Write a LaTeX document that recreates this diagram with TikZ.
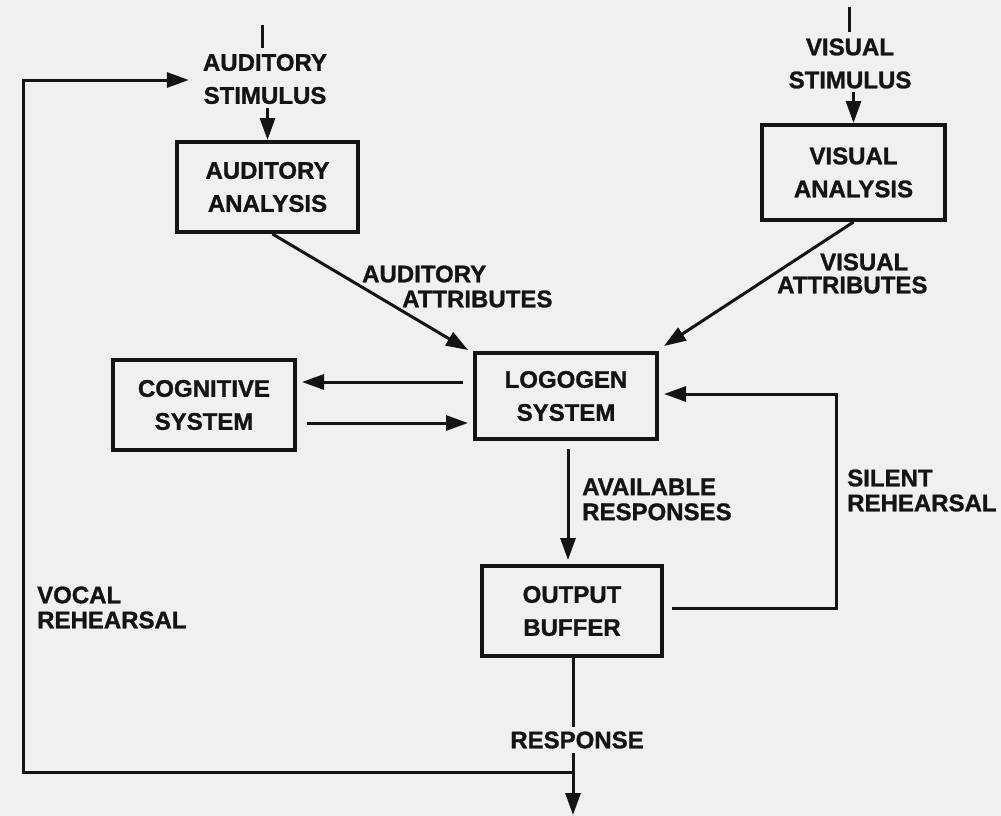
\documentclass[tikz,border=0pt]{standalone}
\usepackage{fontspec}
\setmainfont{Liberation Sans}[BoldFeatures={FakeBold=1.2}]
\usetikzlibrary{arrows.meta}
\definecolor{paper}{RGB}{240,240,240}
\definecolor{ink}{RGB}{20,20,20}
\begin{document}
\begin{tikzpicture}[x=1pt,y=-1pt,
  every node/.style={font=\bfseries\fontsize{24}{33}\selectfont, inner sep=0pt, text=ink},
  box/.style={draw=ink, line width=4pt, align=center},
  conn/.style={draw=ink, line width=3pt},
  arr/.style={conn, -{Triangle[length=22pt,width=15pt]}},
  lab/.style={align=left, anchor=west, font=\bfseries\fontsize{24}{25}\selectfont}]
\fill[paper] (0,0) rectangle (1001,816);
\useasboundingbox (0,0) rectangle (1001,816);

% stimuli
\node[align=center] (audstim) at (265,79) {AUDITORY\\STIMULUS};
\node[align=center] (visstim) at (850,63.5) {VISUAL\\STIMULUS};

% boxes
\node[box, minimum width=181pt, minimum height=90pt] (audan) at (267.5,187) {AUDITORY\\ANALYSIS};
\node[box, minimum width=183pt, minimum height=95pt] (visan) at (853.5,172.5) {VISUAL\\ANALYSIS};
\node[box, minimum width=182pt, minimum height=86pt] (logo) at (566,396) {LOGOGEN\\SYSTEM};
\node[box, minimum width=182pt, minimum height=90pt] (cog) at (204,405) {COGNITIVE\\SYSTEM};
\node[box, minimum width=180pt, minimum height=90pt] (out) at (572,611) {OUTPUT\\BUFFER};

% labels
\node[lab] (audattr) at (362,286.5) {AUDITORY\\\hspace*{40pt}ATTRIBUTES};
\node[lab, font=\bfseries\fontsize{24}{23}\selectfont] (visattr) at (777,273.5) {\hspace*{43pt}VISUAL\\ATTRIBUTES};
\node[lab] (avail) at (582,499.5) {AVAILABLE\\RESPONSES};
\node[lab] (silent) at (847,490.5) {SILENT\\REHEARSAL};
\node[lab] (vocal) at (37,607.5) {VOCAL\\REHEARSAL};
\node[inner sep=4pt] (resp) at (577,740) {RESPONSE};

% coordinates
\coordinate (t1) at (262,25);
\coordinate (t2) at (849,7);
\coordinate (rend) at (573,815);
\coordinate (junc) at (573,772);
\coordinate (vl) at (23,420);
\coordinate (sr) at (836,500);

% ticks
\draw[conn, shorten >=6pt] (t1) -- (t1 |- audstim.north);
\draw[conn, shorten >=6pt] (t2) -- (t2 |- visstim.north);

% stimulus arrows
\draw[arr, shorten <=3.5pt] (audstim.south -| audan.north) -- (audan.north);
\draw[arr, shorten <=3pt] (visstim.south -| visan.north) -- (visan.north);

% attributes
\draw[arr] ([xshift=5pt]audan.south) -- ([xshift=-5pt,yshift=1pt]logo.north west);
\draw[arr] (visan.south) -- ([xshift=5pt,yshift=5pt]logo.north east);

% cognitive <-> logogen
\draw[arr] ([xshift=-10pt,yshift=14pt]logo.west) -- ([xshift=5pt,yshift=23pt]cog.east);
\draw[arr] ([xshift=10pt,yshift=-18pt]cog.east) -- ([xshift=-5pt,yshift=-27pt]logo.west);

% available responses
\draw[arr] ([xshift=2pt,yshift=-8pt]logo.south) -- ([xshift=-4pt,yshift=4pt]out.north);

% silent rehearsal
\draw[arr] ([xshift=8pt,yshift=3pt]out.east) -| (sr) |- ([xshift=5pt,yshift=2pt]logo.east);

% response
\draw[conn] (out.south -| rend) -- (resp.north -| rend);
\draw[arr] (resp.south -| rend) -- (rend);

% vocal rehearsal
\draw[arr] (junc) -| (vl) |- ([xshift=-14pt,yshift=-1pt]audstim.west);
\end{tikzpicture}
\end{document}
